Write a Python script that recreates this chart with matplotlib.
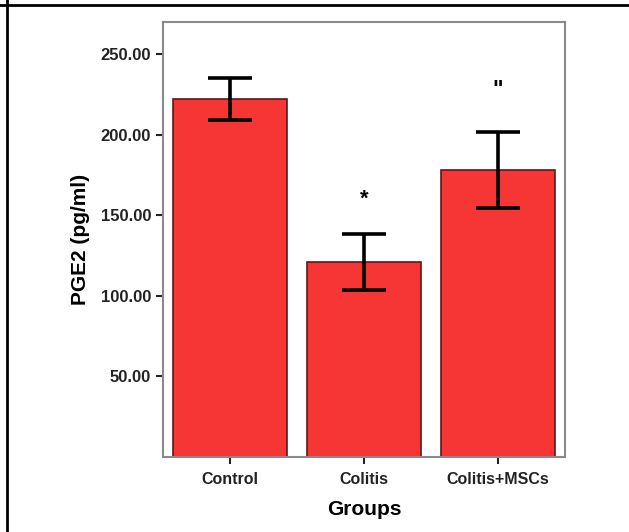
import matplotlib
matplotlib.use("Agg")
import matplotlib.pyplot as plt
from matplotlib.lines import Line2D

groups = ["Control", "Colitis", "Colitis+MSCs"]
means = [222.0, 121.0, 178.0]
errors = [13.0, 17.5, 23.5]
marks = ["", "*", '"']
yticks = [50, 100, 150, 200, 250]

plt.rcParams["font.family"] = ["Liberation Sans", "DejaVu Sans"]
plt.rcParams["font.weight"] = "bold"

W, H = 629, 532
fig = plt.figure(figsize=(W / 100, H / 100), dpi=100)
ax = fig.add_axes([163 / W, 1 - 457 / H, (565 - 163) / W, (457 - 22) / H])

x = range(len(groups))
ax.bar(x, means, width=0.85, color="#f53634", edgecolor="#5a1a1a", linewidth=1.2, zorder=2)
ax.errorbar(x, means, yerr=errors, fmt="none", ecolor="black",
            elinewidth=2.6, capsize=16, capthick=2.6, zorder=3)

# significance marks, offset in points above the error bar
mark_pad = {"*": 25, '"': 31}
for i, (m, e, s) in enumerate(zip(means, errors, marks)):
    if s:
        ax.annotate(s, (i, m + e), xytext=(0, mark_pad[s]), textcoords="offset points",
                    ha="center", va="center", fontsize=16, fontweight="bold")

ax.set_xlim(-0.5, 2.5)
ax.set_ylim(0, 270)
ax.set_yticks(yticks)
ax.set_yticklabels([f"{v:.2f}" for v in yticks], fontsize=12, fontweight="bold", color="#222222")
ax.set_xticks(list(x))
ax.set_xticklabels(groups, fontsize=11.5, fontweight="bold", color="#222222")
ax.tick_params(axis="both", direction="out", length=5, width=1.5, color="#222222")
ax.tick_params(axis="x", pad=6)

for sp in ax.spines.values():
    sp.set_color("#8a8a8a")
    sp.set_linewidth(1.5)

ax.set_ylabel("PGE2 (pg/ml)", fontsize=15, fontweight="bold", labelpad=8)
ax.set_xlabel("Groups", fontsize=15, fontweight="bold", labelpad=9)

# table border around the figure
fig.add_artist(Line2D([0, 1], [1 - 5 / H, 1 - 5 / H], color="black", linewidth=2))
fig.add_artist(Line2D([7 / W, 7 / W], [0, 1], color="black", linewidth=2))

fig.savefig("out.png", dpi=100)
